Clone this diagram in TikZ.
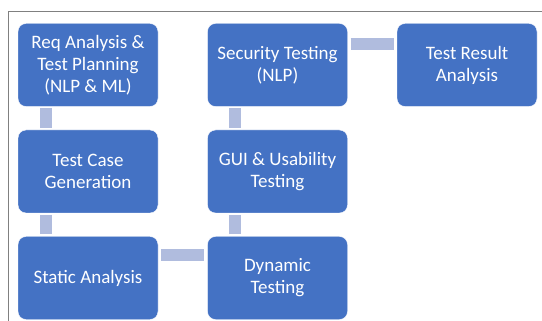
\documentclass[tikz,border=0pt]{standalone}
\usepackage{tikz}
\usepackage{xcolor}
\usepackage{fontspec}
\setmainfont{Carlito}
\usetikzlibrary{shapes, arrows}

\definecolor{boxblue}{HTML}{4472C4}
\definecolor{linkblue}{RGB}{176,188,222}
\definecolor{framegray}{RGB}{128,128,128}

\begin{document}
\begin{tikzpicture}[x=1pt, y=-1pt, node distance = 106.5pt, auto]

\tikzstyle{stage} = [rectangle, rounded corners=8pt, text centered, align=center, draw=white, line width=0.4pt, fill=boxblue, text=white, minimum width=140pt, minimum height=83pt, inner sep=0pt, font=\fontsize{19}{22}\selectfont]
\tikzstyle{link} = [draw=linkblue, line width=12pt]
\tikzstyle{frame} = [draw=framegray, line width=1pt]

\useasboundingbox (0,0) rectangle (542,321);
\draw [frame] (8,321) -- (8,12) -- (542,12);

\node (req) [stage] at (88,65) {Req Analysis \&\\Test Planning\\(NLP \& ML)};
\node (gen) [stage, below of=req] {Test Case\\Generation};
\node (static) [stage, below of=gen] {Static Analysis};
\node (dyn) [stage, right of=static, node distance=189.5pt] {Dynamic\\Testing};
\node (gui) [stage, above of=dyn] {GUI \& Usability\\Testing};
\node (sec) [stage, above of=gui] {Security Testing\\(NLP)};
\node (res) [stage, right of=sec, node distance=189.5pt] {Test Result\\Analysis};

\draw [link] ([xshift=28pt,yshift=-1.5pt]req.south west) -- ([xshift=28pt,yshift=2pt]gen.north west);
\draw [link] ([xshift=28pt,yshift=-1.5pt]gen.south west) -- ([xshift=28pt,yshift=2pt]static.north west);
\draw [link] ([xshift=3pt,yshift=-19pt]static.north east) -- ([xshift=-3pt,yshift=-19pt]dyn.north west);
\draw [link] ([xshift=28pt,yshift=2pt]dyn.north west) -- ([xshift=28pt,yshift=-1.5pt]gui.south west);
\draw [link] ([xshift=28pt,yshift=2pt]gui.north west) -- ([xshift=28pt,yshift=-1.5pt]sec.south west);
\draw [link] ([xshift=3pt,yshift=-20.5pt]sec.north east) -- ([xshift=-3pt,yshift=-20.5pt]res.north west);
\end{tikzpicture}
\end{document}
